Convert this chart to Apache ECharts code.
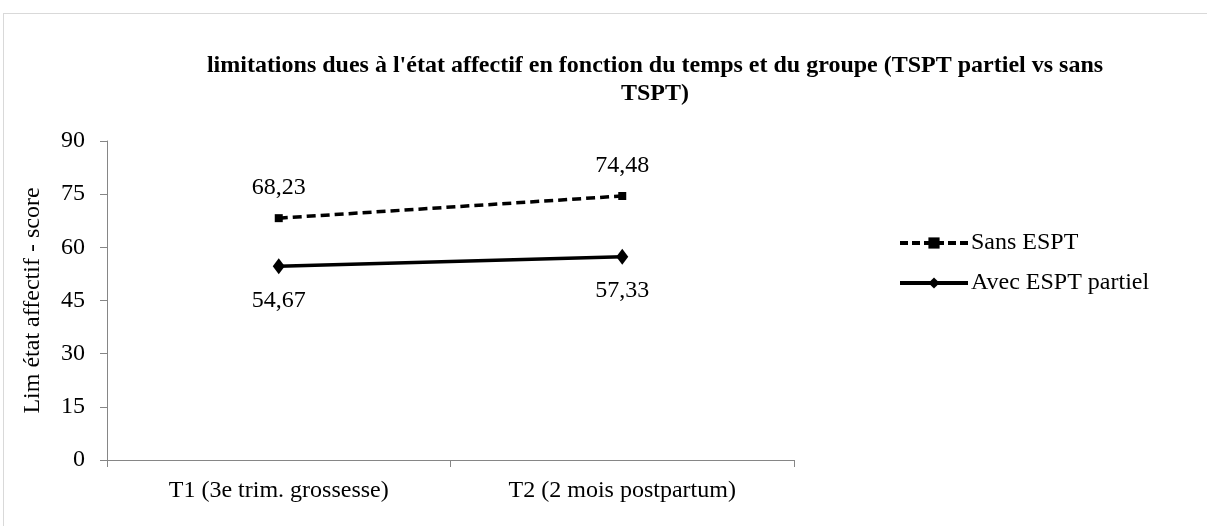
<!DOCTYPE html>
<html><head><meta charset="utf-8">
<script src="https://cdn.jsdelivr.net/npm/echarts@6/dist/echarts.min.js"></script>
<style>
html,body{margin:0;padding:0;background:#fff;}
#frame{position:absolute;left:3px;top:13px;width:1210px;height:520px;border:1px solid #d9d9d9;box-sizing:border-box;}
#c{position:absolute;left:0;top:0;width:1207px;height:526px;}
</style></head>
<body>
<div id="frame"></div>
<div id="c"></div>
<script>
const categories = ['T1 (3e trim. grossesse)', 'T2 (2 mois postpartum)'];
const sansESPT = [68.23, 74.48];
const avecESPT = [54.67, 57.33];
const seriesNames = ['Sans ESPT', 'Avec ESPT partiel'];
const yTicks = { min: 0, max: 90, interval: 15 };
const titleText = "limitations dues à l'état affectif en fonction du temps et du groupe (TSPT partiel vs sans\nTSPT)";
const yAxisTitle = 'Lim état affectif - score';

const FONT = "'Liberation Serif', 'DejaVu Serif', serif";
const FS = 24;
const fmt = p => p.value.toFixed(2).replace('.', ',');

const chart = echarts.init(document.getElementById('c'));
chart.setOption({
  animation: false,
  title: {
    text: titleText,
    left: 650, top: 47, textAlign: 'center',
    textStyle: { fontFamily: FONT, fontWeight: 'bold', fontSize: 24, color: '#000', lineHeight: 28 }
  },
  grid: { left: 107, right: 413, top: 141, bottom: 66, containLabel: false },
  legend: {
    orient: 'vertical', left: 893, top: 226,
    itemWidth: 68, itemHeight: 14, itemGap: 16,
    textStyle: { fontFamily: FONT, fontSize: FS, color: '#000', padding: [0, 0, 0, -2] },
    data: [
      { name: seriesNames[0], lineStyle: { width: 4, type: [8, 4] }, itemStyle: { color: '#000' } },
      { name: seriesNames[1], lineStyle: { width: 4 }, itemStyle: { color: '#000' } }
    ]
  },
  xAxis: {
    type: 'category', data: categories, boundaryGap: true,
    axisLine: { lineStyle: { color: '#868686', width: 1 } },
    axisTick: { show: true, length: 7, lineStyle: { color: '#868686' } },
    axisLabel: { fontFamily: FONT, fontSize: FS, color: '#000', margin: 19 }
  },
  yAxis: {
    type: 'value', min: yTicks.min, max: yTicks.max, interval: yTicks.interval,
    name: yAxisTitle, nameLocation: 'middle', nameGap: 62, nameRotate: 90,
    nameTextStyle: { fontFamily: FONT, fontSize: FS, color: '#000' },
    axisLine: { show: true, lineStyle: { color: '#868686', width: 1 } },
    axisTick: { show: true, length: 7, lineStyle: { color: '#868686' } },
    splitLine: { show: false },
    axisLabel: { fontFamily: FONT, fontSize: FS, color: '#000', margin: 22 }
  },
  series: [
    {
      name: seriesNames[0], type: 'line', data: sansESPT,
      symbol: 'rect', symbolSize: 8,
      lineStyle: { color: '#000', width: 3.5, type: [9, 5] },
      itemStyle: { color: '#000' },
      label: { show: true, position: 'top', distance: 14, formatter: fmt, fontFamily: FONT, fontSize: FS, color: '#000' }
    },
    {
      name: seriesNames[1], type: 'line', data: avecESPT,
      symbol: 'diamond', symbolSize: [12, 16],
      lineStyle: { color: '#000', width: 3.5 },
      itemStyle: { color: '#000' },
      label: { show: true, position: 'bottom', distance: 14, formatter: fmt, fontFamily: FONT, fontSize: FS, color: '#000' }
    }
  ]
});
</script>
</body></html>
